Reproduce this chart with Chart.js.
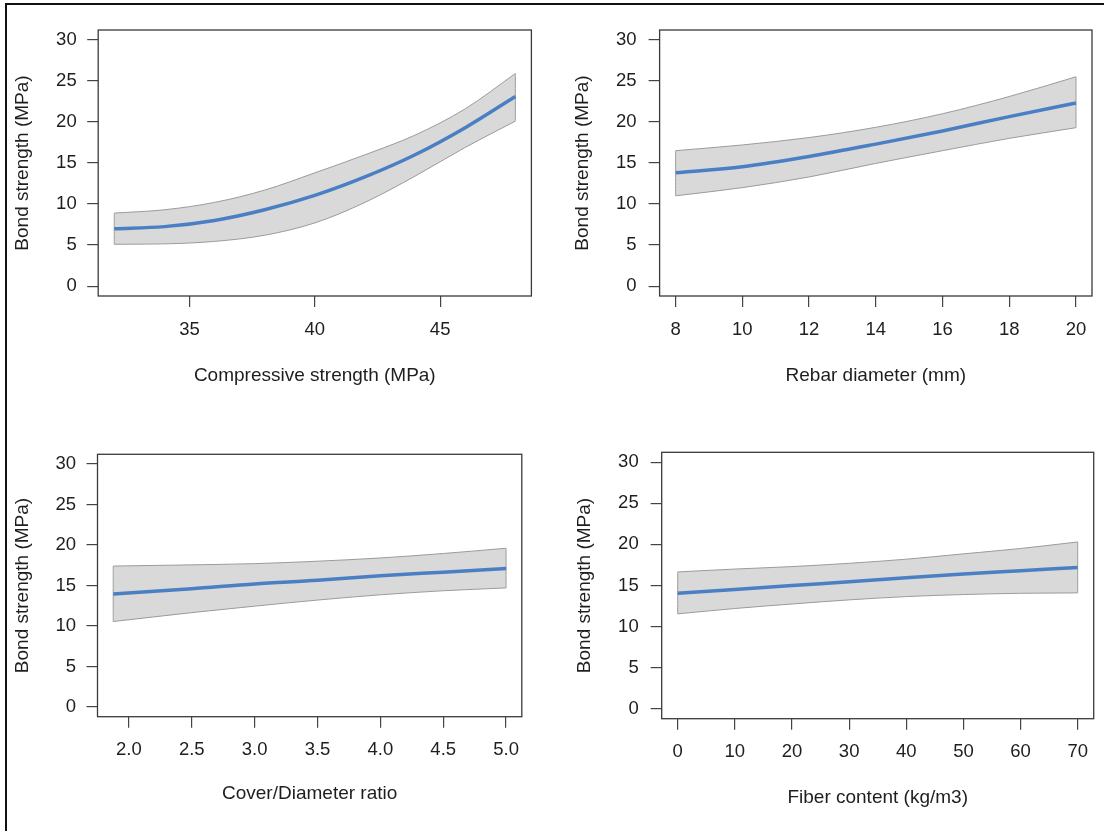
<!DOCTYPE html>
<html>
<head>
<meta charset="utf-8">
<script src="https://cdn.jsdelivr.net/npm/chart.js@4.4.1/dist/chart.umd.min.js"></script>
<style>
  html, body { margin: 0; padding: 0; background: #fff; }
  #fig { position: relative; width: 1104px; height: 831px; overflow: hidden; background: #fff; }
  #fig canvas { position: absolute; }
  .frame-top  { position: absolute; left: 5px; top: 3px; width: 1099px; height: 2px; background: #111; }
  .frame-left { position: absolute; left: 5px; top: 3px; width: 2px; height: 828px; background: #111; }
</style>
</head>
<body>
<div id="fig">
  <div class="frame-top"></div>
  <div class="frame-left"></div>
  <canvas id="c1" width="545" height="410" style="left:7px;top:6px"></canvas>
  <canvas id="c2" width="552" height="410" style="left:552px;top:6px"></canvas>
  <canvas id="c3" width="545" height="415" style="left:7px;top:416px"></canvas>
  <canvas id="c4" width="552" height="415" style="left:552px;top:416px"></canvas>
</div>
<script>
// shared y axis
const Y_TICKS = [0, 5, 10, 15, 20, 25, 30];
const Y_TITLE = 'Bond strength (MPa)';

// compressive strength
const COMP_X   = [32, 34, 36, 38, 40, 42, 44, 46, 48];
const COMP_FIT = [7.0, 7.25, 8.0, 9.3, 11.05, 13.3, 16.0, 19.3, 23.1];
const COMP_HI  = [8.9, 9.3, 10.2, 11.7, 13.8, 16.0, 18.4, 21.6, 25.9];
const COMP_LO  = [5.1, 5.15, 5.45, 6.2, 7.7, 10.2, 13.4, 16.9, 20.1];
const COMP_TICKS = [35, 40, 45];

// rebar diameter
const DIA_X   = [8, 10, 12, 14, 16, 18, 20];
const DIA_FIT = [13.8, 14.55, 15.8, 17.3, 18.9, 20.65, 22.3];
const DIA_HI  = [16.5, 17.2, 18.1, 19.35, 21.0, 23.1, 25.5];
const DIA_LO  = [11.0, 12.0, 13.3, 14.95, 16.5, 18.0, 19.3];
const DIA_TICKS = [8, 10, 12, 14, 16, 18, 20];

// cover / diameter ratio
const CD_X   = [1.875, 2.5, 3.0, 3.5, 4.0, 4.5, 5.0];
const CD_FIT = [13.95, 14.6, 15.2, 15.65, 16.2, 16.65, 17.1];
const CD_HI  = [17.4, 17.55, 17.7, 18.0, 18.4, 18.95, 19.6];
const CD_LO  = [10.55, 11.65, 12.45, 13.2, 13.85, 14.35, 14.7];
const CD_TICKS = [2.0, 2.5, 3.0, 3.5, 4.0, 4.5, 5.0];

// fiber content
const FIB_X   = [0, 10, 20, 30, 40, 50, 60, 70];
const FIB_FIT = [14.05, 14.5, 15.0, 15.45, 15.95, 16.4, 16.8, 17.2];
const FIB_HI  = [16.65, 17.0, 17.3, 17.7, 18.2, 18.85, 19.5, 20.3];
const FIB_LO  = [11.55, 12.2, 12.75, 13.25, 13.65, 13.9, 14.05, 14.1];
const FIB_TICKS = [0, 10, 20, 30, 40, 50, 60, 70];

const FONT = "'Liberation Sans', Arial, Helvetica, sans-serif";
const TEXT = '#1e1e1e';
const BAND_FILL = '#d9d9d9';
const BAND_EDGE = '#9b9b9b';
const LINE_BLUE = '#4a7fc4';

const boxPlugin = {
  id: 'box',
  afterDraw(chart) {
    const { ctx, chartArea: a } = chart;
    ctx.save();
    ctx.strokeStyle = '#3a3a3a';
    ctx.lineWidth = 1.3;
    ctx.strokeRect(a.left, a.top, a.right - a.left, a.bottom - a.top);
    ctx.restore();
  }
};

const pts = (xs, ys) => xs.map((x, i) => ({ x, y: ys[i] }));

function makePanel(p) {
  const { xs, fit, hi, lo } = p;
  const last = xs.length - 1;
  new Chart(document.getElementById(p.id), {
    type: 'line',
    data: {
      datasets: [
        { data: pts(xs, fit), borderColor: LINE_BLUE, borderWidth: 3.5, order: 0, fill: false },
        { data: pts(xs, hi), borderColor: BAND_EDGE, borderWidth: 1, order: 2, fill: false },
        { data: pts(xs, lo), borderColor: BAND_EDGE, borderWidth: 1, order: 3,
          fill: 1, backgroundColor: BAND_FILL },
        { data: [{ x: xs[0], y: lo[0] }, { x: xs[0], y: hi[0] }],
          borderColor: BAND_EDGE, borderWidth: 1, order: 1, fill: false, tension: 0 },
        { data: [{ x: xs[last], y: lo[last] }, { x: xs[last], y: hi[last] }],
          borderColor: BAND_EDGE, borderWidth: 1, order: 1, fill: false, tension: 0 },
      ]
    },
    options: {
      responsive: false,
      animation: false,
      devicePixelRatio: 1,
      layout: { padding: { top: p.padTop, right: p.padRight, left: 0, bottom: 0 } },
      elements: {
        point: { radius: 0, hoverRadius: 0 },
        line: { cubicInterpolationMode: 'monotone' }
      },
      plugins: { legend: { display: false }, tooltip: { enabled: false } },
      scales: {
        x: {
          type: 'linear',
          min: p.xMin, max: p.xMax,
          afterBuildTicks: s => { s.ticks = p.ticks.map(v => ({ value: v })); },
          afterFit: s => { s.height = p.xHeight; },
          grid: { drawOnChartArea: false, drawTicks: true, tickLength: 11, color: '#444', lineWidth: 1.2 },
          border: { display: false },
          ticks: {
            autoSkip: false, maxRotation: 0, padding: p.xTickPad, color: TEXT,
            font: { family: FONT, size: 18.5 },
            callback: v => p.fmt ? p.fmt(v) : String(v)
          },
          title: {
            display: true, text: p.xTitle, color: TEXT,
            font: { family: FONT, size: 19 },
            padding: { top: 0, bottom: p.xTitlePad }
          }
        },
        y: {
          type: 'linear',
          min: -1.2, max: 31.2,
          afterBuildTicks: s => { s.ticks = Y_TICKS.map(v => ({ value: v })); },
          afterFit: s => { s.width = p.yWidth; },
          grid: { drawOnChartArea: false, drawTicks: true, tickLength: 11, color: '#444', lineWidth: 1.2 },
          border: { display: false },
          ticks: {
            autoSkip: false, padding: p.yTickPad, color: TEXT,
            font: { family: FONT, size: 18.5 }
          },
          title: {
            display: true, text: Y_TITLE, color: TEXT,
            font: { family: FONT, size: 19 },
            padding: { top: p.yTitlePad, bottom: 0 }
          }
        }
      }
    },
    plugins: [boxPlugin]
  });
}

makePanel({
  id: 'c1', xs: COMP_X, fit: COMP_FIT, hi: COMP_HI, lo: COMP_LO, ticks: COMP_TICKS,
  xTitle: 'Compressive strength (MPa)', xMin: 31.36, xMax: 48.64,
  padTop: 24, padRight: 20.6, yWidth: 91.2, xHeight: 120,
  yTitlePad: 4.6, xTitlePad: 28.6, xTickPad: 11.6, yTickPad: 10.5
});
makePanel({
  id: 'c2', xs: DIA_X, fit: DIA_FIT, hi: DIA_HI, lo: DIA_LO, ticks: DIA_TICKS,
  xTitle: 'Rebar diameter (mm)', xMin: 7.52, xMax: 20.48,
  padTop: 24, padRight: 12, yWidth: 107.6, xHeight: 120,
  yTitlePad: 19.2, xTitlePad: 28.6, xTickPad: 11.6, yTickPad: 12
});
makePanel({
  id: 'c3', xs: CD_X, fit: CD_FIT, hi: CD_HI, lo: CD_LO, ticks: CD_TICKS,
  xTitle: 'Cover/Diameter ratio', xMin: 1.75, xMax: 5.125, fmt: v => v.toFixed(1),
  padTop: 38.3, padRight: 30.2, yWidth: 90.5, xHeight: 114.3,
  yTitlePad: 4.5, xTitlePad: 25.6, xTickPad: 10.9, yTickPad: 10.5
});
makePanel({
  id: 'c4', xs: FIB_X, fit: FIB_FIT, hi: FIB_HI, lo: FIB_LO, ticks: FIB_TICKS,
  xTitle: 'Fiber content (kg/m3)', xMin: -2.8, xMax: 72.8,
  padTop: 36.3, padRight: 10.3, yWidth: 109.7, xHeight: 112.3,
  yTitlePad: 21.6, xTitlePad: 21.9, xTickPad: 11.6, yTickPad: 12
});
</script>
</body>
</html>
